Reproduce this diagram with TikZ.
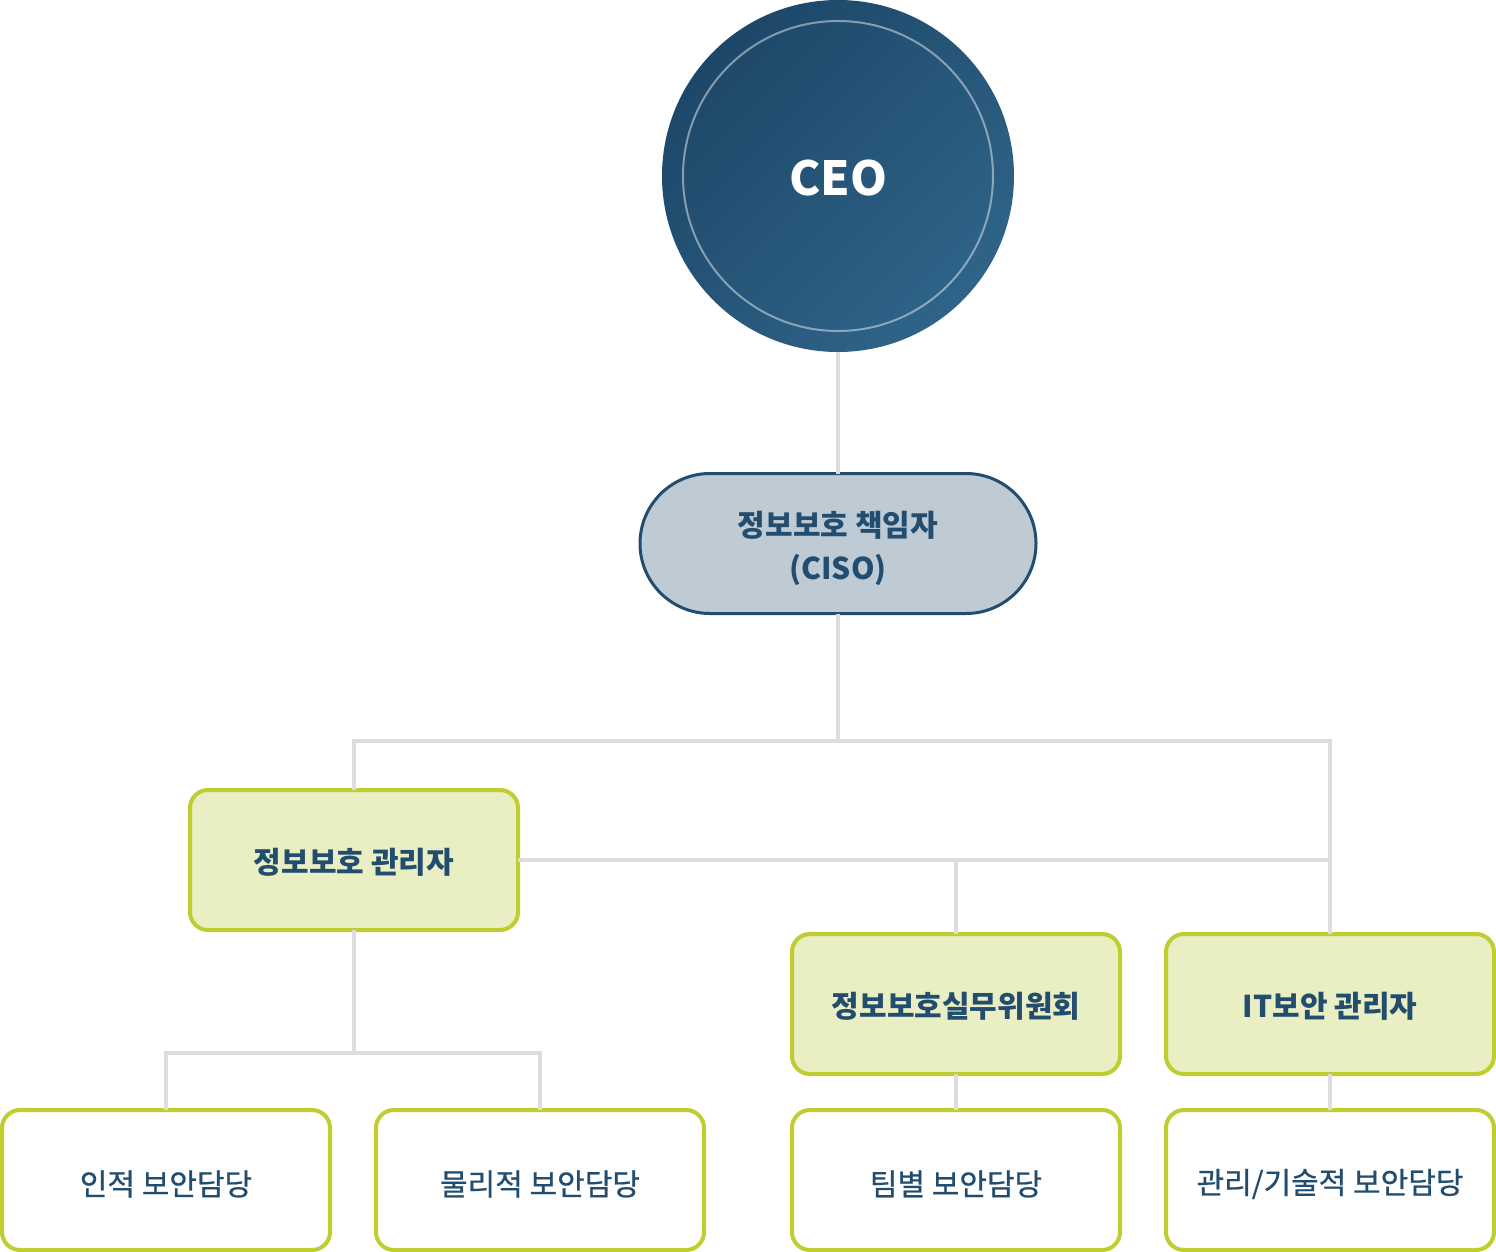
\documentclass[tikz,border=0pt]{standalone}
\usepackage{fontspec}
\setmainfont{Noto Sans CJK KR}
\newfontfamily\krmed[FakeBold=0.7]{Noto Sans CJK KR}
\definecolor{ceoA}{HTML}{1D4768}
\definecolor{ceoB}{HTML}{2F6488}
\definecolor{navy}{HTML}{234D6E}
\definecolor{cisofill}{HTML}{BECAD4}
\definecolor{lime}{HTML}{BFCE2E}
\definecolor{limefill}{HTML}{E9EFC3}
\definecolor{conn}{HTML}{DDDDDD}
\newcommand{\lowerby}[2]{\raisebox{-#1}[\height][\depth]{#2}}
\tikzset{
  link/.style={draw=conn, line width=2pt},
  mgrbox/.style={draw=lime, fill=limefill, line width=2pt, rounded corners=9pt,
    minimum width=164pt, minimum height=70pt, inner sep=0pt, outer sep=0pt,
    text=navy, font=\bfseries\fontsize{15}{18}\selectfont},
  staffbox/.style={draw=lime, fill=white, line width=2pt, rounded corners=9pt,
    minimum width=164pt, minimum height=70pt, inner sep=0pt, outer sep=0pt,
    text=navy, font=\krmed\fontsize{15}{18}\selectfont},
}
\begin{document}
\begin{tikzpicture}[x=0.5pt,y=-0.5pt]
\useasboundingbox (0,0) rectangle (1496,1252);
% CEO
\node (ceo) [circle, minimum size=176pt, inner sep=0pt, outer sep=0pt,
  top color=ceoA, bottom color=ceoB, shading angle=45,
  text=white, font=\bfseries\fontsize{23.5}{28}\selectfont] at (838,176) {\lowerby{1pt}{CEO}};
\node (ceoring) [circle, minimum size=155pt, inner sep=0pt, draw=white, draw opacity=0.45, line width=1pt] at (838,176) {};
% CISO
\node (ciso) [draw=navy, fill=cisofill, line width=1.5pt, rounded corners=35pt,
  minimum width=198pt, minimum height=70pt, inner sep=0pt, outer sep=0pt,
  text=navy, align=center, font=\bfseries\fontsize{15}{22}\selectfont] at (838,543.5)
  {\lowerby{2.3pt}{\shortstack{정보보호 책임자\\[4.5pt](CISO)}}};
% managers
\node (mgr)  [mgrbox] at (354,860) {\lowerby{1pt}{정보보호 관리자}};
\node (comm) [mgrbox] at (956,1004) {\lowerby{1pt}{정보보호실무위원회}};
\node (itm)  [mgrbox] at (1330,1004) {\lowerby{1pt}{IT보안 관리자}};
% staff
\node (s1) [staffbox] at (166,1180) {\lowerby{2pt}{인적 보안담당}};
\node (s2) [staffbox] at (540,1180) {\lowerby{2pt}{물리적 보안담당}};
\node (s3) [staffbox] at (956,1180) {\lowerby{2pt}{팀별 보안담당}};
\node (s4) [staffbox] at (1330,1180) {\lowerby{2pt}{관리/기술적 보안담당}};
% junctions
\coordinate (busA) at (840,741);
\coordinate (busC) at (354,1053);
% connectors
\draw[link] (ceo.south) -- (ciso.north);
\draw[link] (ciso.south) -- (ciso.south |- busA);
\draw[link] (mgr.north) |- (busA) -| (itm.north);
\draw[link] (mgr.east) -- (mgr.east -| itm.north);
\draw[link] (mgr.east -| comm.north) -- (comm.north);
\draw[link] (mgr.south) -- (busC);
\draw[link] (s1.north) |- (busC) -| (s2.north);
\draw[link] (comm.south) -- (s3.north);
\draw[link] (itm.south) -- (s4.north);
\end{tikzpicture}
\end{document}
